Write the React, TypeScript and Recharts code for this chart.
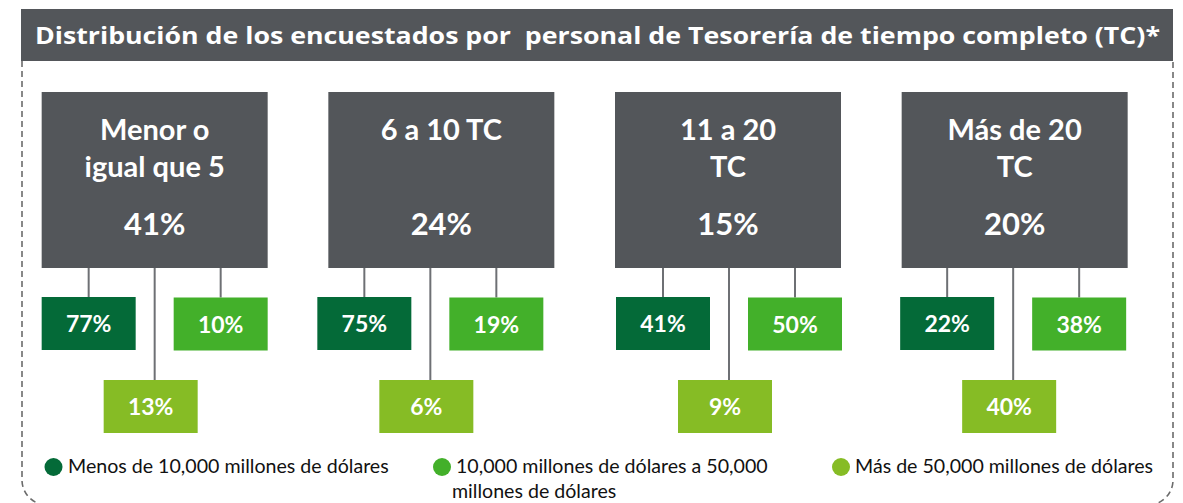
import React from 'react';
import { BarChart, Bar, XAxis, YAxis, Legend } from 'recharts';

// ---- data ----
const title = 'Distribución de los encuestados por  personal de Tesorería de tiempo completo (TC)*';
const categories = ['Menor o\nigual que 5', '6 a 10 TC', '11 a 20\nTC', 'Más de 20\nTC'];
const totalShare = [41, 24, 15, 20];
const under10k = [77, 75, 41, 22];
const from10kTo50k = [10, 19, 50, 38];
const over50k = [13, 6, 9, 40];
const seriesNames = [
  'Menos de 10,000 millones de dólares',
  '10,000 millones de dólares a 50,000\nmillones de dólares',
  'Más de 50,000 millones de dólares',
];

// ---- styles / layout ----
const W = 1183;
const H = 503;
const FONT = 'Lato, "Noto Sans", "DejaVu Sans", sans-serif';
const TITLE_FONT = '"Open Sans", "Noto Sans", sans-serif';
const GRAY = '#53565A';
const LINE = '#6E7074';
const COLORS = ['#046A38', '#43B02A', '#86BC25'];
const subShift = [0, -11, 1, -1.5];

const data = categories.map((name, i) => ({
  name,
  total: totalShare[i],
  under10k: under10k[i],
  mid: from10kTo50k[i],
  over: over50k[i],
}));

const GroupShape = (props: any) => {
  const { x, width, payload, index } = props;
  const top = 92;
  const boxH = 176;
  const bottom = top + boxH;
  const L = x + (subShift[index] ?? 0);
  const cx = x + width / 2;
  const lines = String(payload.name).split('\n');
  const subs = [
    { v: payload.under10k, left: L, top: 297, line: L + 47, color: COLORS[0], base: 332 },
    { v: payload.mid, left: L + 132, top: 297.5, line: L + 179, color: COLORS[1], base: 332.5 },
    { v: payload.over, left: L + 62, top: 380, line: L + 113, color: COLORS[2], base: 415 },
  ];
  return (
    <g>
      {subs.map((s, i) => (
        <line key={'l' + i} x1={s.line} x2={s.line} y1={bottom} y2={s.top} stroke={LINE} strokeWidth={2} />
      ))}
      <rect x={x} y={top} width={width} height={boxH} fill={GRAY} />
      {lines.map((t, i) => (
        <text key={'t' + i} x={cx} y={140 + i * 37} textAnchor="middle" fill="#fff" fontFamily={FONT} fontWeight={700} fontSize={29}>
          {t}
        </text>
      ))}
      <text x={cx} y={235} textAnchor="middle" fill="#fff" fontFamily={FONT} fontWeight={700} fontSize={31}>
        {payload.total}%
      </text>
      {subs.map((s, i) => (
        <g key={'s' + i}>
          <rect x={s.left} y={s.top} width={94} height={53} fill={s.color} />
          <text x={s.left + 47} y={s.base} textAnchor="middle" fill="#fff" fontFamily={FONT} fontWeight={700} fontSize={23}>
            {s.v}%
          </text>
        </g>
      ))}
    </g>
  );
};

const legendPos = [
  { cx: 53.5, tx: 68 },
  { cx: 442, tx: 456 },
  { cx: 841, tx: 855 },
];

const renderLegend = () => (
  <svg width={W} height={58} style={{ display: 'block' }}>
    {seriesNames.map((name, i) => (
      <g key={i}>
        <circle cx={legendPos[i].cx} cy={22} r={9} fill={COLORS[i]} />
        {name.split('\n').map((t, j) => (
          <text
            key={j}
            x={j === 0 ? legendPos[i].tx : legendPos[i].tx - 4}
            y={28 + j * 25}
            fill="#111"
            fontFamily={FONT}
            fontSize={19.6}
          >
            {t}
          </text>
        ))}
      </g>
    ))}
  </svg>
);

export default function App() {
  return (
    <div style={{ position: 'absolute', left: 0, top: 0, width: W, height: H, background: '#fff', overflow: 'hidden' }}>
      <svg width={W} height={H} style={{ position: 'absolute', left: 0, top: 0 }}>
        <path
          d="M22,61 L22,480 A25,25 0 0 0 47,505 L1148,505 A25,25 0 0 0 1173,480 L1173,61"
          fill="none"
          stroke="#6b6b6b"
          strokeWidth={1.6}
          strokeDasharray="6 4"
        />
        <rect x={21} y={9} width={1152} height={52} fill={GRAY} />
        <text
          x={35}
          y={44}
          fill="#fff"
          fontFamily={TITLE_FONT}
          fontWeight={700}
          fontSize={24}
          textLength={1125}
          lengthAdjust="spacingAndGlyphs"
          style={{ whiteSpace: 'pre' }}
        >
          {title}
        </text>
      </svg>
      <div style={{ position: 'absolute', left: 0, top: 0 }}>
        <BarChart width={W} height={H} data={data} margin={{ top: 0, right: 24.67, left: 11.67, bottom: 0 }}>
          <XAxis dataKey="name" hide />
          <YAxis hide domain={[0, 100]} />
          <Legend
            content={renderLegend}
            verticalAlign="bottom"
            wrapperStyle={{ position: 'absolute', left: 0, top: 445, bottom: 'auto', width: W, height: 58, margin: 0 }}
          />
          <Bar dataKey="total" barSize={226} isAnimationActive={false} shape={GroupShape} />
        </BarChart>
      </div>
    </div>
  );
}
